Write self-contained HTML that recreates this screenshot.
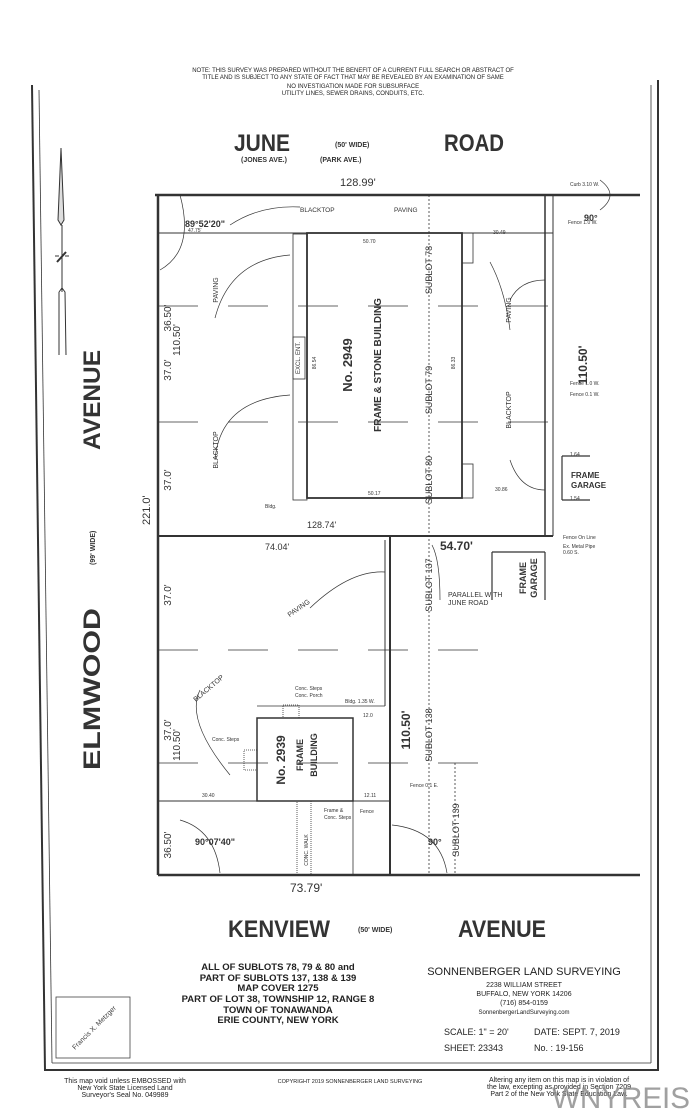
<!DOCTYPE html>
<html><head><meta charset="utf-8"><style>
html,body{margin:0;padding:0;background:#fff;}
svg{display:block;font-family:"Liberation Sans",sans-serif;}
</style></head><body>
<svg width="700" height="1120" viewBox="0 0 700 1120" xmlns="http://www.w3.org/2000/svg">
<rect width="700" height="1120" fill="#fff"/>
<g fill="#222" text-anchor="middle" font-size="6">
<text x="353" y="72">NOTE: THIS SURVEY WAS PREPARED WITHOUT THE BENEFIT OF A CURRENT FULL SEARCH OR ABSTRACT OF</text>
<text x="353" y="79">TITLE AND IS SUBJECT TO ANY STATE OF FACT THAT MAY BE REVEALED BY AN EXAMINATION OF SAME</text>
<text x="353" y="88">NO INVESTIGATION MADE FOR SUBSURFACE</text>
<text x="353" y="95">UTILITY LINES, SEWER DRAINS, CONDUITS, ETC.</text>
</g>
<g stroke="#333" fill="none">
<line x1="32" y1="85" x2="45" y2="1071" stroke-width="2"/>
<line x1="39" y1="90" x2="52" y2="1063" stroke-width="0.8"/>
<line x1="651" y1="85" x2="651" y2="1063" stroke-width="0.8"/>
<line x1="658" y1="80" x2="658" y2="1071" stroke-width="2"/>
<line x1="52" y1="1063" x2="651" y2="1063" stroke-width="0.8"/>
<line x1="45" y1="1070" x2="658" y2="1070" stroke-width="2"/>
</g>
<g stroke="#333" fill="none" stroke-width="1">
<path d="M61 148 L58 220 L61 225 L64 220 Z" fill="#ddd"/>
<line x1="62" y1="225" x2="62" y2="292"/>
<path d="M55 256 L59 256 M65 256 L69 256"/>
<path d="M57 262 L66 252" stroke-width="2"/>
<path d="M59 292 L62 288 L65 292 L66 355 M59 292 L59 355"/>
</g>
<g fill="#333" font-weight="bold">
<text x="234" y="151" font-size="24" textLength="56" lengthAdjust="spacingAndGlyphs">JUNE</text>
<text x="444" y="151" font-size="24" textLength="60" lengthAdjust="spacingAndGlyphs">ROAD</text>
<text x="335" y="147" font-size="7">(50' WIDE)</text>
<text x="241" y="162" font-size="7">(JONES AVE.)</text>
<text x="320" y="162" font-size="7">(PARK AVE.)</text>
<text x="340" y="186" font-size="11" font-weight="normal">128.99'</text>
<text x="228" y="937" font-size="24" textLength="102" lengthAdjust="spacingAndGlyphs">KENVIEW</text>
<text x="458" y="937" font-size="24" textLength="88" lengthAdjust="spacingAndGlyphs">AVENUE</text>
<text x="358" y="932" font-size="7">(50' WIDE)</text>
<text x="290" y="892" font-size="12" font-weight="normal">73.79'</text>
<text transform="translate(100,450) rotate(-90)" font-size="24" textLength="100" lengthAdjust="spacingAndGlyphs">AVENUE</text>
<text transform="translate(100,770) rotate(-90)" font-size="24" textLength="162" lengthAdjust="spacingAndGlyphs">ELMWOOD</text>
<text transform="translate(95,565) rotate(-90)" font-size="7">(99' WIDE)</text>
<text transform="translate(150,525) rotate(-90)" font-size="11" font-weight="normal">221.0'</text>
</g>
<g stroke="#333" fill="none">
<line x1="155" y1="195" x2="640" y2="195" stroke-width="2.5"/>
<line x1="158" y1="195" x2="158" y2="875" stroke-width="2.5"/>
<line x1="158" y1="875" x2="640" y2="875" stroke-width="2.5"/>
<line x1="545" y1="195" x2="545" y2="536" stroke-width="1.5"/>
<line x1="553" y1="195" x2="553" y2="536" stroke-width="1"/>
<line x1="158" y1="536" x2="553" y2="536" stroke-width="2"/>
<line x1="390" y1="536" x2="390" y2="875" stroke-width="2"/>
<line x1="385" y1="540" x2="385" y2="706" stroke-width="1"/>
<line x1="158" y1="233" x2="553" y2="233" stroke-width="1"/>
<line x1="158" y1="801" x2="390" y2="801" stroke-width="1"/>
<line x1="257" y1="706" x2="385" y2="706" stroke-width="0.8"/>
<rect x="307" y="233" width="155" height="265" stroke-width="1.8"/>
<rect x="293" y="234" width="14" height="266" stroke-width="0.8"/>
<rect x="293" y="337" width="12" height="42" stroke-width="0.8"/>
<rect x="462" y="233" width="11" height="30" stroke-width="0.8"/>
<rect x="462" y="464" width="11" height="34" stroke-width="0.8"/>
<rect x="257" y="718" width="96" height="83" stroke-width="1.5"/>
<rect x="244" y="750" width="13" height="20" stroke-width="0.8" stroke-dasharray="1 1"/>
<rect x="283" y="705" width="16" height="13" stroke-width="0.8" stroke-dasharray="1 1"/>
<rect x="297" y="801" width="14" height="74" stroke-width="0.8" stroke-dasharray="1 1"/>
<line x1="353" y1="801" x2="353" y2="875" stroke-width="0.8"/>
<path d="M562 456 L562 500 M562 456 L590 456 M562 500 L590 500" stroke-width="1.2"/>
<path d="M492 552 L492 600 M492 552 L545 552 M545 552 L545 600" stroke-width="1.2"/>
<g stroke-width="0.8" stroke-dasharray="40 30">
<line x1="158" y1="306" x2="553" y2="306"/>
<line x1="158" y1="422" x2="553" y2="422"/>
<line x1="158" y1="650" x2="490" y2="650"/>
<line x1="158" y1="763" x2="490" y2="763"/>
</g>
<line x1="429" y1="195" x2="429" y2="875" stroke-width="0.8" stroke-dasharray="2 2"/>
<line x1="455" y1="763" x2="455" y2="875" stroke-width="0.8" stroke-dasharray="2 2"/>
<g stroke-width="0.7">
<path d="M230 225 Q260 205 300 207"/>
<path d="M215 318 Q230 260 290 255"/>
<path d="M215 460 Q220 400 290 395"/>
<path d="M510 330 Q505 290 490 262"/>
<path d="M510 300 Q520 280 545 280"/>
<path d="M510 460 Q520 490 545 490"/>
<path d="M310 608 Q350 570 385 572"/>
<path d="M200 690 Q185 720 230 775"/>
<path d="M440 600 Q440 560 432 545"/>
<path d="M180 820 Q215 830 220 873"/>
<path d="M392 825 Q440 830 447 873"/>
<path d="M160 270 Q195 250 180 195"/>
<path d="M600 210 Q620 195 600 180"/>
</g>
</g>
<g fill="#333" font-size="6.5">
<text x="300" y="212">BLACKTOP</text>
<text x="394" y="212">PAVING</text>
<text x="188" y="232" font-size="5">47.75'</text>
<text x="185" y="227" font-size="9" font-weight="bold">89°52'20"</text>
<text x="584" y="221" font-size="9" font-weight="bold">90°</text>
<text x="363" y="243" font-size="5">50.70</text>
<text x="493" y="234" font-size="5">30.49</text>
<text x="368" y="495" font-size="5">50.17</text>
<text x="495" y="491" font-size="5">30.86</text>
<text x="307" y="528" font-size="9">128.74'</text>
<text x="265" y="508" font-size="5">Bldg.</text>
<text x="570" y="186" font-size="5">Curb 3.10 W.</text>
<text x="570" y="500" font-size="5">1.54</text>
<text x="570" y="456" font-size="5">1.64</text>
<text x="571" y="478" font-size="8" font-weight="bold">FRAME</text>
<text x="571" y="488" font-size="8" font-weight="bold">GARAGE</text>
<text x="563" y="539" font-size="5">Fence On Line</text>
<text x="563" y="548" font-size="5">Ex. Metal Pipe</text>
<text x="563" y="554" font-size="5">0.60 S.</text>
<text x="570" y="385" font-size="5">Fence 1.0 W.</text>
<text x="570" y="396" font-size="5">Fence 0.1 W.</text>
<text x="568" y="224" font-size="5">Fence 1.0 W.</text>
<text x="265" y="550" font-size="9">74.04'</text>
<text x="440" y="550" font-size="12" font-weight="bold">54.70'</text>
<text x="448" y="597" font-size="7">PARALLEL WITH</text>
<text x="448" y="605" font-size="7">JUNE ROAD</text>
<text x="345" y="703" font-size="5">Bldg. 1.35 W.</text>
<text x="295" y="690" font-size="5">Conc. Steps</text>
<text x="295" y="697" font-size="5">Conc. Porch</text>
<text x="212" y="741" font-size="5">Conc. Steps</text>
<text x="202" y="797" font-size="5">30.40</text>
<text x="363" y="717" font-size="5">12.0</text>
<text x="364" y="797" font-size="5">12.11</text>
<text x="410" y="787" font-size="5">Fence 0.1 E.</text>
<text x="360" y="813" font-size="5">Fence</text>
<text x="324" y="812" font-size="5">Frame &amp;</text>
<text x="324" y="819" font-size="5">Conc. Steps</text>
<text x="195" y="845" font-size="9" font-weight="bold">90°07'40"</text>
<text x="428" y="845" font-size="9" font-weight="bold">90°</text>
</g>
<g fill="#333" font-size="7" text-anchor="middle">
<text transform="translate(218,290) rotate(-90)">PAVING</text>
<text transform="translate(218,450) rotate(-90)">BLACKTOP</text>
<text transform="translate(511,310) rotate(-90)">PAVING</text>
<text transform="translate(511,410) rotate(-90)">BLACKTOP</text>
<text transform="translate(300,610) rotate(-35)">PAVING</text>
<text transform="translate(210,690) rotate(-40)">BLACKTOP</text>
<text transform="translate(171,318) rotate(-90)" font-size="10">36.50'</text>
<text transform="translate(171,370) rotate(-90)" font-size="10">37.0'</text>
<text transform="translate(180,340) rotate(-90)" font-size="10">110.50'</text>
<text transform="translate(171,480) rotate(-90)" font-size="10">37.0'</text>
<text transform="translate(171,595) rotate(-90)" font-size="10">37.0'</text>
<text transform="translate(171,730) rotate(-90)" font-size="10">37.0'</text>
<text transform="translate(180,745) rotate(-90)" font-size="10">110.50'</text>
<text transform="translate(171,845) rotate(-90)" font-size="10">36.50'</text>
<text transform="translate(587,365) rotate(-90)" font-size="12" font-weight="bold">110.50'</text>
<text transform="translate(410,730) rotate(-90)" font-size="12" font-weight="bold">110.50'</text>
<text transform="translate(432,270) rotate(-90)" font-size="9">SUBLOT 78</text>
<text transform="translate(432,390) rotate(-90)" font-size="9">SUBLOT 79</text>
<text transform="translate(432,480) rotate(-90)" font-size="9">SUBLOT 80</text>
<text transform="translate(432,585) rotate(-90)" font-size="9">SUBLOT 137</text>
<text transform="translate(432,735) rotate(-90)" font-size="9">SUBLOT 138</text>
<text transform="translate(459,830) rotate(-90)" font-size="9">SUBLOT 139</text>
<text transform="translate(352,365) rotate(-90)" font-size="13" font-weight="bold">No. 2949</text>
<text transform="translate(381,365) rotate(-90)" font-size="10" font-weight="bold">FRAME &amp; STONE BUILDING</text>
<text transform="translate(300,358) rotate(-90)" font-size="6">EXCL. ENT.</text>
<text transform="translate(316,363) rotate(-90)" font-size="5">86.54</text>
<text transform="translate(455,363) rotate(-90)" font-size="5">86.33</text>
<text transform="translate(285,760) rotate(-90)" font-size="12" font-weight="bold">No. 2939</text>
<text transform="translate(303,755) rotate(-90)" font-size="9" font-weight="bold">FRAME</text>
<text transform="translate(317,755) rotate(-90)" font-size="9" font-weight="bold">BUILDING</text>
<text transform="translate(526,578) rotate(-90)" font-size="9" font-weight="bold">FRAME</text>
<text transform="translate(537,578) rotate(-90)" font-size="9" font-weight="bold">GARAGE</text>
<text transform="translate(308,850) rotate(-90)" font-size="5">CONC. WALK</text>
</g>
<g fill="#222" font-size="9.5" font-weight="bold" text-anchor="middle">
<text x="278" y="970">ALL OF SUBLOTS 78, 79 &amp; 80 and</text>
<text x="278" y="981">PART OF SUBLOTS 137, 138 &amp; 139</text>
<text x="278" y="991">MAP COVER 1275</text>
<text x="278" y="1002">PART OF LOT 38, TOWNSHIP 12, RANGE 8</text>
<text x="278" y="1013">TOWN OF TONAWANDA</text>
<text x="278" y="1023">ERIE COUNTY, NEW YORK</text>
</g>
<g fill="#222" text-anchor="middle">
<text x="524" y="975" font-size="11">SONNENBERGER LAND SURVEYING</text>
<text x="524" y="987" font-size="7">2238 WILLIAM STREET</text>
<text x="524" y="996" font-size="7">BUFFALO, NEW YORK  14206</text>
<text x="524" y="1005" font-size="7">(716) 854-0159</text>
<text x="524" y="1014" font-size="6">SonnenbergerLandSurveying.com</text>
</g>
<g fill="#222" font-size="9">
<text x="444" y="1035">SCALE: 1" = 20'</text>
<text x="534" y="1035">DATE: SEPT. 7, 2019</text>
<text x="444" y="1051">SHEET: 23343</text>
<text x="534" y="1051">No. : 19-156</text>
</g>
<rect x="56" y="997" width="74" height="61" fill="none" stroke="#444" stroke-width="0.8"/>
<text transform="translate(75,1050) rotate(-45)" font-size="7" fill="#444">Francis X. Metzger</text>
<g fill="#222" font-size="7" text-anchor="middle">
<text x="125" y="1083">This map void unless EMBOSSED with</text>
<text x="125" y="1090">New York State Licensed Land</text>
<text x="125" y="1097">Surveyor's Seal No. 049989</text>
<text x="350" y="1083" font-size="5.5">COPYRIGHT 2019 SONNENBERGER LAND SURVEYING</text>
<text x="559" y="1082" font-size="7">Altering any item on this map is in violation of</text>
<text x="559" y="1089" font-size="7">the law, excepting as provided in Section 7209</text>
<text x="559" y="1096" font-size="7">Part 2 of the New York State Education Law.</text>
</g>
<text x="690" y="1108" text-anchor="end" font-size="30" fill="#888" fill-opacity="0.8" textLength="138" lengthAdjust="spacingAndGlyphs">WNYREIS</text>
</svg>
</body></html>
